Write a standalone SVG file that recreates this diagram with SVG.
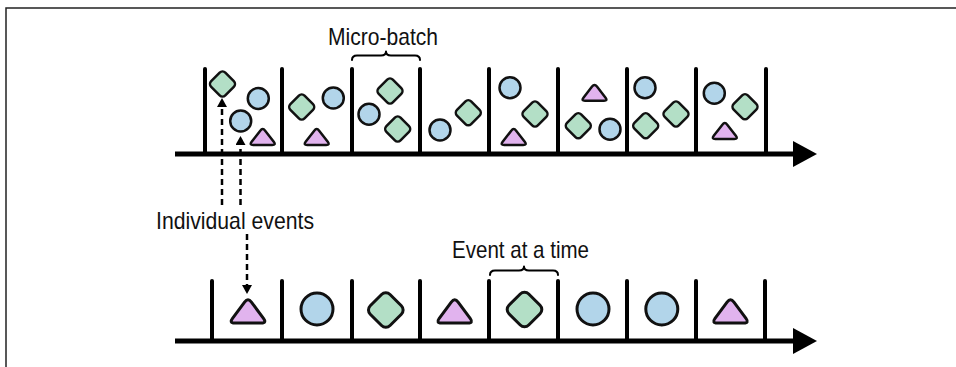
<svg xmlns="http://www.w3.org/2000/svg" xmlns:xlink="http://www.w3.org/1999/xlink" width="956" height="367" viewBox="0 0 956 367">
<style>
.frame{fill:none;stroke:#222;stroke-width:1.5}
.axis{stroke:#000;stroke-width:5;fill:none}
.head{fill:#000}
.div{stroke:#000;stroke-width:4;stroke-linecap:round}
.s{stroke:#111;stroke-width:2.5;stroke-linejoin:round}
.L{stroke:#111;stroke-width:3;stroke-linejoin:round}
.g{fill:#b3dfc6}
.b{fill:#b2d5ea}
.p{fill:#e1b3ee}
.brace{fill:none;stroke:#000;stroke-width:2;stroke-linecap:round;stroke-linejoin:round}
.dash{fill:none;stroke:#000;stroke-width:2.5;stroke-dasharray:6 4}
.lbl{font-family:"Liberation Sans",Arial,sans-serif;font-size:24px;fill:#111}
</style>
<defs>
<rect id="sd" x="-10" y="-10" width="20" height="20" rx="4" transform="rotate(45)"/>
<circle id="sc" r="10.5"/>
<path id="st" d="M-2.44,-6.34 Q0,-9.5 2.44,-6.34 L11.06,4.84 Q13.5,8 9.5,8 L-9.5,8 Q-13.5,8 -11.06,4.84 Z"/>
<rect id="ld" x="-14" y="-14" width="28" height="28" rx="6" transform="rotate(45)"/>
<circle id="lc" r="16"/>
<path id="lt" d="M-3.42,-9.4 Q0,-14 3.42,-9.4 L15.48,6.96 Q18.9,11.6 13.3,11.6 L-13.3,11.6 Q-18.9,11.6 -15.48,6.96 Z"/>
<marker id="ah" viewBox="0 0 9 10" refX="0" refY="5" markerWidth="9" markerHeight="10" markerUnits="userSpaceOnUse" orient="auto">
<path d="M0,0 L9,5 L0,10 Z" fill="#000"/>
</marker>
</defs>

<path class="frame" d="M6,367 V8 H956"/>

<g id="micro-batch-timeline">
<line class="axis" x1="175" y1="154" x2="796" y2="154"/>
<polygon class="head" points="793,141 817,154 793,167"/>
<line class="div" x1="205" y1="69" x2="205" y2="154"/>
<line class="div" x1="282" y1="69" x2="282" y2="154"/>
<line class="div" x1="352" y1="69" x2="352" y2="154"/>
<line class="div" x1="420" y1="69" x2="420" y2="154"/>
<line class="div" x1="489" y1="69" x2="489" y2="154"/>
<line class="div" x1="558" y1="69" x2="558" y2="154"/>
<line class="div" x1="627" y1="69" x2="627" y2="154"/>
<line class="div" x1="696" y1="69" x2="696" y2="154"/>
<line class="div" x1="766" y1="69" x2="766" y2="154"/>
</g>

<g id="micro-batch-events">
<use xlink:href="#sd" class="s g" x="222.5" y="84"/>
<use xlink:href="#sc" class="s b" x="258.3" y="98.5"/>
<use xlink:href="#sc" class="s b" x="240.7" y="121"/>
<use xlink:href="#st" class="s p" x="262.7" y="137"/>
<use xlink:href="#sd" class="s g" x="301.7" y="107"/>
<use xlink:href="#sc" class="s b" x="333.3" y="98"/>
<use xlink:href="#st" class="s p" x="316.7" y="137"/>
<use xlink:href="#sd" class="s g" x="390" y="91"/>
<use xlink:href="#sc" class="s b" x="369" y="114.3"/>
<use xlink:href="#sd" class="s g" x="397.7" y="129"/>
<use xlink:href="#sc" class="s b" x="440" y="130"/>
<use xlink:href="#sd" class="s g" x="468.3" y="112.7"/>
<use xlink:href="#sc" class="s b" x="510" y="87.7"/>
<use xlink:href="#sd" class="s g" x="535" y="114"/>
<use xlink:href="#st" class="s p" x="513.7" y="137"/>
<use xlink:href="#st" class="s p" x="594.5" y="92.8"/>
<use xlink:href="#sd" class="s g" x="578.3" y="125.7"/>
<use xlink:href="#sc" class="s b" x="610" y="129.3"/>
<use xlink:href="#sc" class="s b" x="645" y="87.7"/>
<use xlink:href="#sd" class="s g" x="645.7" y="125.7"/>
<use xlink:href="#sd" class="s g" x="676" y="114"/>
<use xlink:href="#sc" class="s b" x="714.3" y="93.3"/>
<use xlink:href="#sd" class="s g" x="745" y="106.7"/>
<use xlink:href="#st" class="s p" x="724.8" y="131"/>
</g>

<g id="micro-batch-label">
<path class="brace" d="M352,60 Q352,55.5 357,55.5 L381,55.5 Q386,55.5 386,51.5 Q386,55.5 391,55.5 L415,55.5 Q420,55.5 420,60"/>
<text class="lbl" x="328" y="45" font-size="25" textLength="110" lengthAdjust="spacingAndGlyphs">Micro-batch</text>
</g>

<g id="event-timeline">
<line class="axis" x1="175" y1="341" x2="796" y2="341"/>
<polygon class="head" points="793,328 817,341 793,354"/>
<line class="div" x1="212" y1="281" x2="212" y2="341"/>
<line class="div" x1="282" y1="281" x2="282" y2="341"/>
<line class="div" x1="352" y1="281" x2="352" y2="341"/>
<line class="div" x1="420" y1="281" x2="420" y2="341"/>
<line class="div" x1="489" y1="281" x2="489" y2="341"/>
<line class="div" x1="558" y1="281" x2="558" y2="341"/>
<line class="div" x1="627" y1="281" x2="627" y2="341"/>
<line class="div" x1="696" y1="281" x2="696" y2="341"/>
<line class="div" x1="765" y1="281" x2="765" y2="341"/>
</g>

<g id="single-events">
<use xlink:href="#lt" class="L p" x="248" y="311.5"/>
<use xlink:href="#lc" class="L b" x="317" y="309"/>
<use xlink:href="#ld" class="L g" x="385.8" y="310"/>
<use xlink:href="#lt" class="L p" x="454.7" y="311.5"/>
<use xlink:href="#ld" class="L g" x="524.5" y="309.5"/>
<use xlink:href="#lc" class="L b" x="593" y="309"/>
<use xlink:href="#lc" class="L b" x="661.8" y="309"/>
<use xlink:href="#lt" class="L p" x="730.5" y="311.5"/>
</g>

<g id="event-at-a-time-label">
<path class="brace" d="M490,275 Q490,270.5 495,270.5 L519,270.5 Q524,270.5 524,266.5 Q524,270.5 529,270.5 L553,270.5 Q558,270.5 558,275"/>
<text class="lbl" x="452" y="258" textLength="137" lengthAdjust="spacingAndGlyphs">Event at a time</text>
</g>

<g id="individual-events-label">
<text class="lbl" x="156" y="229" textLength="158" lengthAdjust="spacingAndGlyphs">Individual events</text>
</g>

<g id="connectors">
<line class="dash" x1="222" y1="205" x2="222" y2="107" marker-end="url(#ah)"/>
<line class="dash" x1="240.5" y1="205" x2="240.5" y2="145" marker-end="url(#ah)"/>
<line class="dash" x1="247" y1="234" x2="247" y2="285" marker-end="url(#ah)"/>
</g>
</svg>
